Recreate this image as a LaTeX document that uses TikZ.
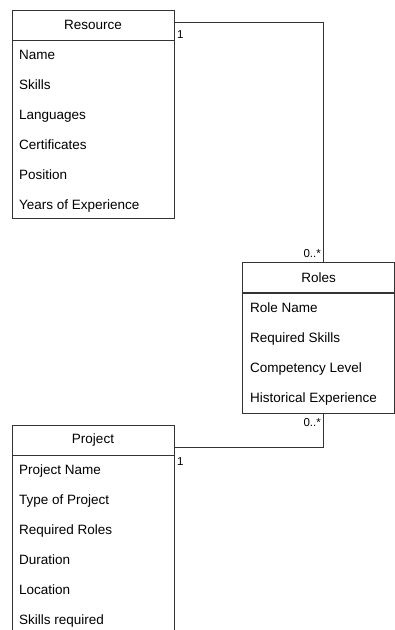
\documentclass[tikz,border=0pt]{standalone}
\usepackage{fontspec}
\setmainfont{Liberation Sans}
\usetikzlibrary{positioning}

\tikzset{
	head/.style={draw=black!80, line width=0.9pt, minimum height=30pt, inner sep=0pt, font=\fontsize{13.5}{15}\selectfont},
	body/.style={draw=black!80, line width=0.9pt, inner sep=0pt},
	attr/.style={anchor=west, inner sep=0pt, text height=9.7pt, text depth=0pt, font=\fontsize{13.5}{15}\selectfont},
	mult/.style={inner sep=0pt, font=\fontsize{11.5}{13}\selectfont},
	link/.style={draw=black!80, line width=0.9pt},
}

\begin{document}
\begin{tikzpicture}[x=1pt, y=-1pt]
	\useasboundingbox (0,0) rectangle (395,630);

	% Resource
	\node[head, minimum width=162pt] (res) at (93,25) {Resource};
	\node[body, minimum width=162pt, minimum height=178pt, below=0pt of res] (resbody) {};
	\foreach \a [count=\i] in {Name,Skills,Languages,Certificates,Position,Years of Experience}
		\node[attr] (resattr\i) at (19,25+30*\i) {\a};

	% Roles
	\node[head, minimum width=152pt] (roles) at (318.6,277.5) {Roles};
	\node[body, minimum width=152pt, minimum height=120pt, below=0pt of roles] (rolesbody) {};
	\foreach \a [count=\i] in {Role Name,Required Skills,Competency Level,Historical Experience}
		\node[attr] (rolesattr\i) at (250,278+30*\i) {\a};

	% Project
	\node[head, minimum width=162pt] (prj) at (93,440) {Project};
	\node[body, minimum width=162pt, minimum height=181pt, below=0pt of prj] (prjbody) {};
	\foreach \a [count=\i] in {Project Name,Type of Project,Required Roles,Duration,Location,Skills required}
		\node[attr] (prjattr\i) at (19,440+30*\i) {\a};

	% links
	\draw[link] ([yshift=3pt]res.east) -| ([xshift=5pt]roles.north);
	\draw[link] ([yshift=-7pt]prj.east) -| ([xshift=5pt]rolesbody.south);

	\node[mult, anchor=west] (resmult) at (177,35) {1};
	\node[mult, anchor=east] (rolesmulttop) at (321,254) {0..*};
	\node[mult, anchor=east] (rolesmultbot) at (321,423) {0..*};
	\node[mult, anchor=west] (prjmult) at (177,462) {1};
\end{tikzpicture}
\end{document}
